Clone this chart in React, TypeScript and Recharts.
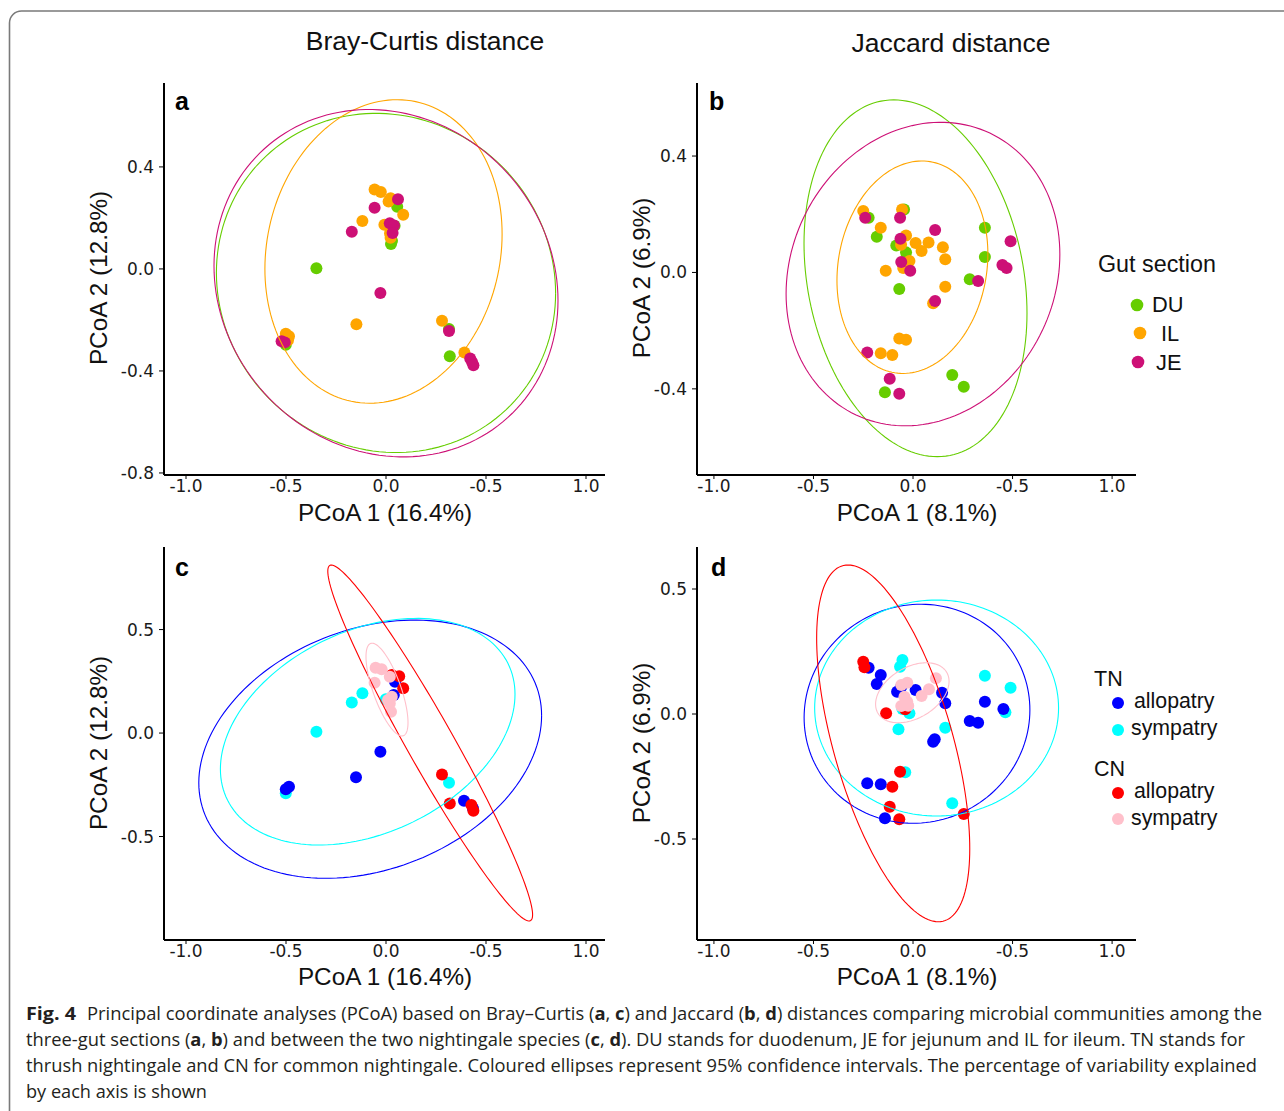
import React from 'react';
import { ScatterChart, Scatter, XAxis, YAxis } from 'recharts';

type Pt = { x: number; y: number };
type Ell = { cx: number; cy: number; w: number; h: number; s: number };

// ---------- tick labels ----------
const xTicks = [-1, -0.5, 0, 0.5, 1];
const xTickLabels = ['-1.0', '-0.5', '0.0', '-0.5', '1.0'];
const yTicksA = [-0.8, -0.4, 0, 0.4];
const yTickLabelsA = ['-0.8', '-0.4', '0.0', '0.4'];
const yTicksB = [-0.4, 0, 0.4];
const yTickLabelsB = ['-0.4', '0.0', '0.4'];
const yTicksCD = [-0.5, 0, 0.5];
const yTickLabelsCD = ['-0.5', '0.0', '0.5'];

// ---------- colours ----------
const cDU = '#66CD00';
const cIL = '#FFA500';
const cJE = '#CD1076';
const cTNallo = '#0000FF';
const cTNsym = '#00FFFF';
const cCNallo = '#FF0000';
const cCNsym = '#FFC0CB';

// ---------- panel a: Bray-Curtis, gut section ----------
const braDU: Pt[] = [
  { x: 0.056, y: 0.244 }, { x: 0.043, y: 0.169 }, { x: 0.025, y: 0.098 }, { x: 0.03, y: 0.11 },
  { x: -0.348, y: 0.003 }, { x: 0.315, y: -0.236 }, { x: 0.319, y: -0.342 }, { x: -0.501, y: -0.297 },
];
const braIL: Pt[] = [
  { x: -0.057, y: 0.311 }, { x: -0.026, y: 0.302 }, { x: 0.023, y: 0.277 }, { x: 0.013, y: 0.264 },
  { x: 0.086, y: 0.212 }, { x: -0.118, y: 0.188 }, { x: -0.008, y: 0.173 }, { x: 0.02, y: 0.14 },
  { x: 0.023, y: 0.122 }, { x: -0.148, y: -0.217 }, { x: 0.28, y: -0.203 }, { x: 0.392, y: -0.328 },
  { x: -0.501, y: -0.254 }, { x: -0.485, y: -0.264 }, { x: -0.49, y: -0.28 },
];
const braJE: Pt[] = [
  { x: 0.06, y: 0.273 }, { x: -0.057, y: 0.24 }, { x: -0.171, y: 0.146 }, { x: 0.019, y: 0.179 },
  { x: 0.04, y: 0.17 }, { x: 0.033, y: 0.141 }, { x: -0.028, y: -0.094 }, { x: 0.315, y: -0.243 },
  { x: 0.421, y: -0.351 }, { x: 0.43, y: -0.365 }, { x: 0.437, y: -0.378 }, { x: -0.522, y: -0.284 },
  { x: -0.506, y: -0.288 },
];

// ---------- panel b: Jaccard, gut section ----------
const jacDU: Pt[] = [
  { x: -0.223, y: 0.188 }, { x: -0.045, y: 0.216 }, { x: -0.182, y: 0.123 }, { x: 0.361, y: 0.154 },
  { x: -0.084, y: 0.093 }, { x: -0.035, y: 0.069 }, { x: 0.361, y: 0.053 }, { x: 0.285, y: -0.023 },
  { x: -0.069, y: -0.057 }, { x: 0.197, y: -0.352 }, { x: 0.255, y: -0.393 }, { x: -0.141, y: -0.412 },
];
const jacIL: Pt[] = [
  { x: -0.25, y: 0.211 }, { x: -0.055, y: 0.216 }, { x: -0.162, y: 0.154 }, { x: -0.035, y: 0.127 },
  { x: 0.013, y: 0.101 }, { x: 0.078, y: 0.103 }, { x: 0.15, y: 0.087 }, { x: 0.043, y: 0.074 },
  { x: 0.162, y: 0.045 }, { x: -0.137, y: 0.006 }, { x: -0.018, y: 0.039 }, { x: -0.039, y: 0.022 },
  { x: -0.049, y: 0.015 }, { x: -0.06, y: 0.095 }, { x: 0.162, y: -0.049 }, { x: 0.101, y: -0.106 },
  { x: -0.069, y: -0.227 }, { x: -0.035, y: -0.231 }, { x: -0.162, y: -0.278 }, { x: -0.104, y: -0.284 },
];
const jacJE: Pt[] = [
  { x: -0.24, y: 0.188 }, { x: -0.065, y: 0.188 }, { x: 0.111, y: 0.146 }, { x: -0.063, y: 0.116 },
  { x: 0.49, y: 0.107 }, { x: 0.449, y: 0.026 }, { x: 0.47, y: 0.015 }, { x: -0.059, y: 0.036 },
  { x: -0.014, y: 0.006 }, { x: 0.327, y: -0.029 }, { x: 0.111, y: -0.098 }, { x: -0.23, y: -0.275 },
  { x: -0.117, y: -0.365 }, { x: -0.069, y: -0.417 },
];

// ---------- panel c: Bray-Curtis, species ----------
const braTNallo: Pt[] = [
  { x: 0.045, y: 0.248 }, { x: 0.039, y: 0.184 }, { x: -0.028, y: -0.09 }, { x: -0.15, y: -0.214 },
  { x: -0.501, y: -0.272 }, { x: -0.485, y: -0.259 }, { x: 0.39, y: -0.327 }, { x: 0.435, y: -0.365 },
];
const braTNsym: Pt[] = [
  { x: -0.118, y: 0.192 }, { x: -0.171, y: 0.148 }, { x: -0.348, y: 0.006 }, { x: -0.001, y: 0.163 },
  { x: 0.315, y: -0.24 }, { x: -0.501, y: -0.291 },
];
const braCNallo: Pt[] = [
  { x: 0.029, y: 0.28 }, { x: 0.066, y: 0.275 }, { x: 0.086, y: 0.216 }, { x: 0.28, y: -0.2 },
  { x: 0.319, y: -0.34 }, { x: 0.427, y: -0.348 }, { x: 0.437, y: -0.375 },
];
const braCNsym: Pt[] = [
  { x: -0.052, y: 0.316 }, { x: -0.022, y: 0.308 }, { x: -0.057, y: 0.243 }, { x: 0.019, y: 0.272 },
  { x: 0.029, y: 0.175 }, { x: 0.019, y: 0.143 }, { x: 0.025, y: 0.103 }, { x: 0.01, y: 0.16 },
];

// ---------- panel d: Jaccard, species ----------
const jacTNallo: Pt[] = [
  { x: -0.223, y: 0.185 }, { x: -0.162, y: 0.156 }, { x: -0.182, y: 0.12 }, { x: -0.08, y: 0.089 },
  { x: -0.059, y: 0.109 }, { x: 0.013, y: 0.096 }, { x: 0.146, y: 0.085 }, { x: 0.162, y: 0.043 },
  { x: 0.361, y: 0.049 }, { x: 0.454, y: 0.02 }, { x: 0.285, y: -0.028 }, { x: 0.327, y: -0.035 },
  { x: 0.109, y: -0.101 }, { x: 0.101, y: -0.111 }, { x: -0.23, y: -0.277 }, { x: -0.162, y: -0.281 },
  { x: -0.141, y: -0.417 },
];
const jacTNsym: Pt[] = [
  { x: -0.053, y: 0.216 }, { x: -0.065, y: 0.189 }, { x: 0.361, y: 0.153 }, { x: 0.49, y: 0.105 },
  { x: 0.464, y: 0.007 }, { x: -0.018, y: 0.003 }, { x: -0.053, y: 0.02 }, { x: -0.073, y: -0.061 },
  { x: 0.162, y: -0.055 }, { x: -0.039, y: -0.233 }, { x: 0.197, y: -0.357 },
];
const jacCNallo: Pt[] = [
  { x: -0.25, y: 0.209 }, { x: -0.244, y: 0.187 }, { x: -0.135, y: 0.003 }, { x: -0.039, y: 0.019 },
  { x: -0.065, y: -0.231 }, { x: -0.104, y: -0.291 }, { x: -0.117, y: -0.371 }, { x: -0.069, y: -0.421 },
  { x: 0.255, y: -0.4 },
];
const jacCNsym: Pt[] = [
  { x: -0.059, y: 0.116 }, { x: -0.029, y: 0.125 }, { x: 0.115, y: 0.143 }, { x: 0.08, y: 0.099 },
  { x: 0.043, y: 0.072 }, { x: -0.043, y: 0.069 }, { x: -0.029, y: 0.049 }, { x: -0.059, y: 0.032 },
  { x: -0.024, y: 0.033 },
];

// ---------- 95% ellipses (centre, half-width, half-height, skew) ----------
const ellBraDU: Ell = { cx: 0.0, cy: -0.055, w: 0.848, h: 0.665, s: -0.06 };
const ellBraIL: Ell = { cx: -0.0125, cy: 0.0685, w: 0.593, h: 0.595, s: 0.115 };
const ellBraJE: Ell = { cx: 0.0, cy: -0.056, w: 0.86, h: 0.681, s: -0.1 };
const ellJacDU: Ell = { cx: 0.0125, cy: -0.02, w: 0.56, h: 0.613, s: -0.195 };
const ellJacIL: Ell = { cx: -0.003, cy: 0.018, w: 0.379, h: 0.365, s: 0.125 };
const ellJacJE: Ell = { cx: 0.05, cy: -0.0055, w: 0.6875, h: 0.5215, s: 0.13 };
const ellBraTNallo: Ell = { cx: -0.079, cy: -0.078, w: 0.857, h: 0.624, s: 0.26 };
const ellBraTNsym: Ell = { cx: -0.0915, cy: 0.0065, w: 0.7365, h: 0.5475, s: 0.33 };
const ellBraCNallo: Ell = { cx: 0.221, cy: -0.048, w: 0.512, h: 0.86, s: -0.965 };
const ellBraCNsym: Ell = { cx: 0.005, cy: 0.21, w: 0.105, h: 0.224, s: -0.71 };
const ellJacTNallo: Ell = { cx: 0.02, cy: 0.001, w: 0.567, h: 0.438, s: 0.035 };
const ellJacTNsym: Ell = { cx: 0.1185, cy: 0.024, w: 0.6125, h: 0.432, s: 0.0 };
const ellJacCNallo: Ell = { cx: -0.0995, cy: -0.1175, w: 0.3845, h: 0.7135, s: -0.59 };
const ellJacCNsym: Ell = { cx: -0.0035, cy: 0.085, w: 0.1845, h: 0.12, s: 0.38 };

function ellipseOutline(e: Ell): Pt[] {
  const phi = Math.asin(e.s);
  const n = 160;
  const pts: Pt[] = [];
  for (let i = 0; i <= n; i++) {
    const t = (i / n) * 2 * Math.PI;
    pts.push({ x: e.cx + e.w * Math.cos(t), y: e.cy + e.h * Math.sin(t + phi) });
  }
  return pts;
}

// ---------- layout ----------
const ML = 14, YW = 50, MT = 23, MR = 15, XH = 30, MB = 15;
const TICK_FONT = { fill: '#1a1a1a', fontSize: 17, fontFamily: 'DejaVu Sans' };

type SeriesDef = { data: Pt[]; color: string };
type EllDef = { e: Ell; color: string };

interface PanelProps {
  id: string;
  plotLeft: number;
  plotTop: number;
  plotW: number;
  plotH: number;
  xDomain: [number, number];
  yDomain: [number, number];
  yTicks: number[];
  yLabels: string[];
  series: SeriesDef[];
  ellipses: EllDef[];
}

function Panel(p: PanelProps) {
  const width = ML + YW + p.plotW + MR;
  const height = MT + p.plotH + XH + MB;
  return (
    <div style={{ position: 'absolute', left: p.plotLeft - ML - YW, top: p.plotTop - MT }}>
      <ScatterChart width={width} height={height} margin={{ top: MT, right: MR, bottom: MB, left: ML }}>
        <XAxis
          type="number"
          dataKey="x"
          domain={p.xDomain}
          allowDataOverflow
          ticks={xTicks}
          interval={0}
          tickFormatter={(v: number) => xTickLabels[xTicks.indexOf(v)] ?? String(v)}
          axisLine={{ stroke: '#000', strokeWidth: 2 }}
          tickLine={{ stroke: '#000', strokeWidth: 1 }}
          tickSize={4}
          tickMargin={1}
          height={XH}
          tick={TICK_FONT}
        />
        <YAxis
          type="number"
          dataKey="y"
          domain={p.yDomain}
          allowDataOverflow
          ticks={p.yTicks}
          interval={0}
          tickFormatter={(v: number) => p.yLabels[p.yTicks.indexOf(v)] ?? String(v)}
          axisLine={{ stroke: '#000', strokeWidth: 2 }}
          tickLine={{ stroke: '#000', strokeWidth: 1 }}
          tickSize={5}
          tickMargin={5}
          width={YW}
          tick={TICK_FONT}
        />
        {p.series.map((s, i) => (
          <Scatter
            key={p.id + 's' + i}
            data={s.data}
            fill={s.color}
            isAnimationActive={false}
            legendType="none"
            shape={(props: any) => <circle cx={props.cx} cy={props.cy} r={6} fill={s.color} />}
          />
        ))}
        {p.ellipses.map((el, i) => (
          <Scatter
            key={p.id + 'e' + i}
            data={ellipseOutline(el.e)}
            line={{ stroke: el.color, strokeWidth: 1.1, fill: 'none' }}
            lineJointType="linear"
            isAnimationActive={false}
            legendType="none"
            shape={() => <g />}
          />
        ))}
      </ScatterChart>
    </div>
  );
}

const SANS = 'Liberation Sans, Arial, sans-serif';
const CAP = 'Open Sans, Noto Sans, sans-serif';

export default function App() {
  const B = (t: string) => <tspan fontWeight={700}>{t}</tspan>;
  return (
    <div style={{ position: 'absolute', left: 0, top: 0, width: 1284, height: 1111, background: '#fff', overflow: 'hidden' }}>
      <svg width={1284} height={1111} style={{ position: 'absolute', left: 0, top: 0 }}>
        <rect x={9.5} y={11} width={1400} height={1200} rx={12} ry={12} fill="none" stroke="#7a7a7a" strokeWidth={1.6} />
        {/* titles */}
        <text x={425} y={50} textAnchor="middle" fontFamily={SANS} fontSize={26.5} fill="#111">Bray-Curtis distance</text>
        <text x={951} y={52} textAnchor="middle" fontFamily={SANS} fontSize={26.5} fill="#111">Jaccard distance</text>
        {/* panel letters */}
        <text x={175} y={110} fontFamily={SANS} fontSize={25} fontWeight={700} fill="#000">a</text>
        <text x={709} y={110} fontFamily={SANS} fontSize={25} fontWeight={700} fill="#000">b</text>
        <text x={175} y={576} fontFamily={SANS} fontSize={25} fontWeight={700} fill="#000">c</text>
        <text x={711} y={576} fontFamily={SANS} fontSize={25} fontWeight={700} fill="#000">d</text>
        {/* axis titles */}
        <text x={385} y={521} textAnchor="middle" fontFamily={SANS} fontSize={24.3} fill="#111">PCoA 1 (16.4%)</text>
        <text x={917} y={521} textAnchor="middle" fontFamily={SANS} fontSize={24.3} fill="#111">PCoA 1 (8.1%)</text>
        <text x={385} y={985} textAnchor="middle" fontFamily={SANS} fontSize={24.3} fill="#111">PCoA 1 (16.4%)</text>
        <text x={917} y={985} textAnchor="middle" fontFamily={SANS} fontSize={24.3} fill="#111">PCoA 1 (8.1%)</text>
        <text transform="translate(107,278) rotate(-90)" textAnchor="middle" fontFamily={SANS} fontSize={24.3} fill="#111">PCoA 2 (12.8%)</text>
        <text transform="translate(650,278) rotate(-90)" textAnchor="middle" fontFamily={SANS} fontSize={24.3} fill="#111">PCoA 2 (6.9%)</text>
        <text transform="translate(107,743) rotate(-90)" textAnchor="middle" fontFamily={SANS} fontSize={24.3} fill="#111">PCoA 2 (12.8%)</text>
        <text transform="translate(650,743) rotate(-90)" textAnchor="middle" fontFamily={SANS} fontSize={24.3} fill="#111">PCoA 2 (6.9%)</text>
        {/* legend b */}
        <text x={1098} y={272} fontFamily={SANS} fontSize={23.3} fill="#111">Gut section</text>
        <circle cx={1137} cy={305} r={6.3} fill={cDU} />
        <text x={1152} y={312} fontFamily={SANS} fontSize={21.8} fill="#111">DU</text>
        <circle cx={1140} cy={333} r={6.3} fill={cIL} />
        <text x={1161} y={341} fontFamily={SANS} fontSize={21.8} fill="#111">IL</text>
        <circle cx={1138} cy={362} r={6.3} fill={cJE} />
        <text x={1156} y={370} fontFamily={SANS} fontSize={21.8} fill="#111">JE</text>
        {/* legend d */}
        <text x={1094} y={686} fontFamily={SANS} fontSize={21.5} fill="#111">TN</text>
        <circle cx={1118} cy={703} r={6} fill={cTNallo} />
        <text x={1134} y={708} fontFamily={SANS} fontSize={21.3} fill="#111">allopatry</text>
        <circle cx={1118} cy={730} r={6} fill={cTNsym} />
        <text x={1131} y={735} fontFamily={SANS} fontSize={21.3} fill="#111">sympatry</text>
        <text x={1094} y={776} fontFamily={SANS} fontSize={21.5} fill="#111">CN</text>
        <circle cx={1118} cy={793} r={6} fill={cCNallo} />
        <text x={1134} y={798} fontFamily={SANS} fontSize={21.3} fill="#111">allopatry</text>
        <circle cx={1118} cy={819} r={6} fill={cCNsym} />
        <text x={1131} y={825} fontFamily={SANS} fontSize={21.3} fill="#111">sympatry</text>
        {/* caption */}
        <text x={26} y={1020} fontFamily={CAP} fontSize={17.5} fontWeight={700} fill="#231f20" textLength={50} lengthAdjust="spacingAndGlyphs">Fig. 4</text>
        <text x={87} y={1020} fontFamily={CAP} fontSize={17.5} fill="#231f20" textLength={1175} lengthAdjust="spacingAndGlyphs">
          {'Principal coordinate analyses (PCoA) based on Bray–Curtis ('}{B('a')}{', '}{B('c')}{') and Jaccard ('}{B('b')}{', '}{B('d')}{') distances comparing microbial communities among the'}
        </text>
        <text x={26} y={1046} fontFamily={CAP} fontSize={17.5} fill="#231f20" textLength={1219} lengthAdjust="spacingAndGlyphs">
          {'three-gut sections ('}{B('a')}{', '}{B('b')}{') and between the two nightingale species ('}{B('c')}{', '}{B('d')}{'). DU stands for duodenum, JE for jejunum and IL for ileum. TN stands for'}
        </text>
        <text x={26} y={1072} fontFamily={CAP} fontSize={17.5} fill="#231f20" textLength={1231} lengthAdjust="spacingAndGlyphs">
          {'thrush nightingale and CN for common nightingale. Coloured ellipses represent 95% confidence intervals. The percentage of variability explained'}
        </text>
        <text x={26} y={1098} fontFamily={CAP} fontSize={17.5} fill="#231f20" textLength={181} lengthAdjust="spacingAndGlyphs">
          {'by each axis is shown'}
        </text>
      </svg>

      <Panel
        id="a"
        plotLeft={164}
        plotTop={83}
        plotW={441}
        plotH={392}
        xDomain={[-1.11, 1.095]}
        yDomain={[-0.808, 0.729]}
        yTicks={yTicksA}
        yLabels={yTickLabelsA}
        series={[
          { data: braDU, color: cDU },
          { data: braIL, color: cIL },
          { data: braJE, color: cJE },
        ]}
        ellipses={[
          { e: ellBraDU, color: cDU },
          { e: ellBraIL, color: cIL },
          { e: ellBraJE, color: cJE },
        ]}
      />
      <Panel
        id="b"
        plotLeft={697}
        plotTop={83}
        plotW={439}
        plotH={392}
        xDomain={[-1.085, 1.12]}
        yDomain={[-0.696, 0.651]}
        yTicks={yTicksB}
        yLabels={yTickLabelsB}
        series={[
          { data: jacDU, color: cDU },
          { data: jacIL, color: cIL },
          { data: jacJE, color: cJE },
        ]}
        ellipses={[
          { e: ellJacDU, color: cDU },
          { e: ellJacIL, color: cIL },
          { e: ellJacJE, color: cJE },
        ]}
      />
      <Panel
        id="c"
        plotLeft={164}
        plotTop={547}
        plotW={441}
        plotH={393}
        xDomain={[-1.11, 1.095]}
        yDomain={[-1.0, 0.899]}
        yTicks={yTicksCD}
        yLabels={yTickLabelsCD}
        series={[
          { data: braTNsym, color: cTNsym },
          { data: braTNallo, color: cTNallo },
          { data: braCNallo, color: cCNallo },
          { data: braCNsym, color: cCNsym },
        ]}
        ellipses={[
          { e: ellBraTNallo, color: cTNallo },
          { e: ellBraTNsym, color: cTNsym },
          { e: ellBraCNallo, color: cCNallo },
          { e: ellBraCNsym, color: cCNsym },
        ]}
      />
      <Panel
        id="d"
        plotLeft={697}
        plotTop={547}
        plotW={439}
        plotH={393}
        xDomain={[-1.085, 1.12]}
        yDomain={[-0.904, 0.668]}
        yTicks={yTicksCD}
        yLabels={yTickLabelsCD}
        series={[
          { data: jacTNsym, color: cTNsym },
          { data: jacTNallo, color: cTNallo },
          { data: jacCNallo, color: cCNallo },
          { data: jacCNsym, color: cCNsym },
        ]}
        ellipses={[
          { e: ellJacTNallo, color: cTNallo },
          { e: ellJacTNsym, color: cTNsym },
          { e: ellJacCNallo, color: cCNallo },
          { e: ellJacCNsym, color: cCNsym },
        ]}
      />
    </div>
  );
}
